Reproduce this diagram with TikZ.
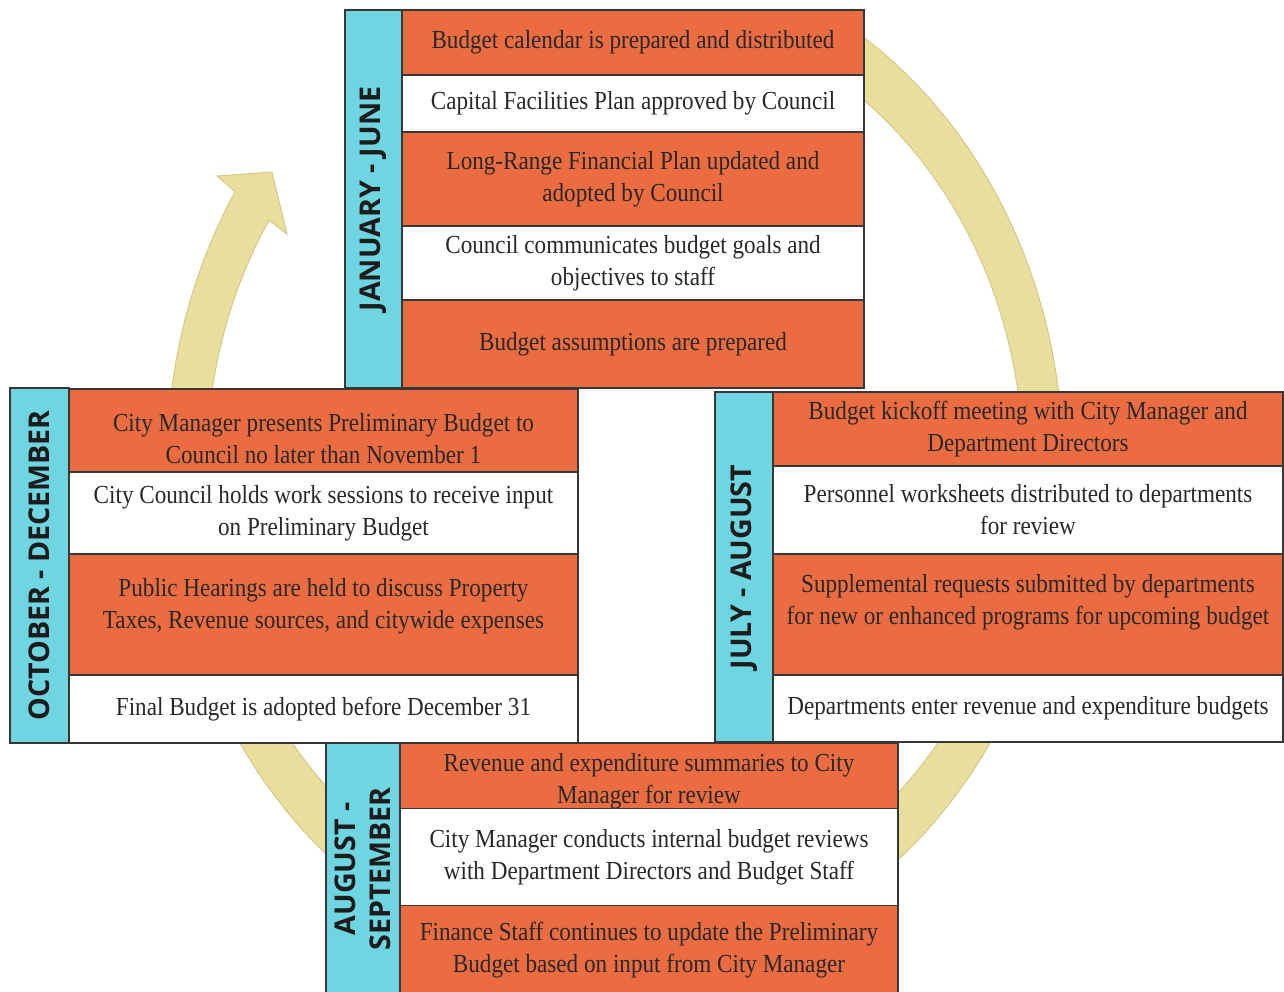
\documentclass[tikz,border=0pt]{standalone}
\usepackage{fontspec}
\setmainfont{Liberation Serif}[FakeStretch=0.89]
\newfontfamily\monthfamily{Open Sans}
\usepackage{tikz}
\usetikzlibrary{positioning}
\definecolor{budgetorange}{RGB}{236,108,66}
\definecolor{budgetcyan}{RGB}{110,213,225}
\definecolor{ringfill}{RGB}{233,223,157}
\definecolor{ringedge}{RGB}{212,200,140}
\definecolor{boxline}{RGB}{55,55,55}
\definecolor{textgray}{RGB}{40,40,40}
\tikzset{
  rowbox/.style={
    draw=boxline,
    line width=0.75pt,
    outer sep=0pt,
    inner sep=0pt,
    align=center,
    text=textgray,
    font=\fontsize{13}{16}\selectfont
  },
  orow/.style={rowbox,fill=budgetorange},
  wrow/.style={rowbox,fill=white},
  monthbar/.style={
    draw=boxline,
    fill=budgetcyan,
    line width=0.75pt,
    outer sep=0pt,
    inner sep=0pt,
    rotate=90,
    align=center,
    text=textgray!70!black,
    font=\monthfamily\bfseries\fontsize{14.3}{17.5}\selectfont
  },
  ring/.style={fill=ringfill,draw=ringedge,line width=0.5pt}
}

\begin{document}
\begin{tikzpicture}[x=0.5pt,y=-0.5pt]
        \useasboundingbox (0,0) rectangle (1284,991);

        % cycle arrow behind the boxes
        \filldraw[ring]
          plot[domain=301.6:572,samples=120] ({615+448*cos(\x)},{463+512*sin(\x)})
          -- (217,176) -- (272,172) -- (287,234)
          -- plot[domain=572:305.2,samples=120] ({615+408*cos(\x)},{463+458*sin(\x)})
          -- cycle;

        % January - June
        \node[monthbar,minimum width=189pt,minimum height=28.5pt] (janbar) at (373.5,199) {JANUARY - JUNE};
        \node[orow,minimum width=231pt,minimum height=32.5pt,anchor=north west] (jan1) at (402,10) {Budget calendar is prepared and distributed};
        \node[wrow,minimum width=231pt,minimum height=28.5pt,below=0pt of jan1] (jan2) {Capital Facilities Plan approved by Council};
        \node[orow,minimum width=231pt,minimum height=47pt,below=0pt of jan2] (jan3) {Long-Range Financial Plan updated and\\adopted by Council};
        \node[wrow,minimum width=231pt,minimum height=37pt,below=0pt of jan3] (jan4) {Council communicates budget goals and\\objectives to staff};
        \node[orow,minimum width=231pt,minimum height=44pt,below=0pt of jan4] (jan5) {Budget assumptions are prepared};

        % July - August
        \node[monthbar,minimum width=175pt,minimum height=29pt] (julbar) at (744,567) {JULY - AUGUST};
        \node[orow,minimum width=255pt,minimum height=37pt,anchor=north west] (jul1) at (773,392) {Budget kickoff meeting with City Manager and\\Department Directors};
        \node[wrow,minimum width=255pt,minimum height=44pt,below=0pt of jul1] (jul2) {Personnel worksheets distributed to departments\\for review};
        \node[orow,minimum width=255pt,minimum height=60.5pt,text depth=15pt,below=0pt of jul2] (jul3) {Supplemental requests submitted by departments\\for new or enhanced programs for upcoming budget};
        \node[wrow,minimum width=255pt,minimum height=33.5pt,below=0pt of jul3] (jul4) {Departments enter revenue and expenditure budgets};

        % October - December
        \node[monthbar,minimum width=177.5pt,minimum height=29.5pt] (octbar) at (39.5,565.5) {OCTOBER - DECEMBER};
        \node[orow,minimum width=254.5pt,minimum height=41.5pt,text height=33pt,anchor=north west] (oct1) at (69,389) {City Manager presents Preliminary Budget to\\Council no later than November 1};
        \node[wrow,minimum width=254.5pt,minimum height=41pt,below=0pt of oct1] (oct2) {City Council holds work sessions to receive input\\on Preliminary Budget};
        \node[orow,minimum width=254.5pt,minimum height=60.5pt,text depth=11pt,below=0pt of oct2] (oct3) {Public Hearings are held to discuss Property\\Taxes, Revenue sources, and citywide expenses};
        \node[wrow,minimum width=254.5pt,minimum height=34pt,below=0pt of oct3] (oct4) {Final Budget is adopted before December 31};

        % August - September
        \node[monthbar,minimum width=126pt,minimum height=37pt] (augbar) at (363,869) {AUGUST -\\SEPTEMBER};
        \node[orow,minimum width=249pt,minimum height=32.5pt,text height=30pt,anchor=north west] (aug1) at (400,743) {Revenue and expenditure summaries to City\\Manager for review};
        \node[wrow,minimum width=249pt,minimum height=48.5pt,below=0pt of aug1] (aug2) {City Manager conducts internal budget reviews\\with Department Directors and Budget Staff};
        \node[orow,minimum width=249pt,minimum height=45pt,below=0pt of aug2] (aug3) {Finance Staff continues to update the Preliminary\\Budget based on input from City Manager};
      \end{tikzpicture}
\end{document}
